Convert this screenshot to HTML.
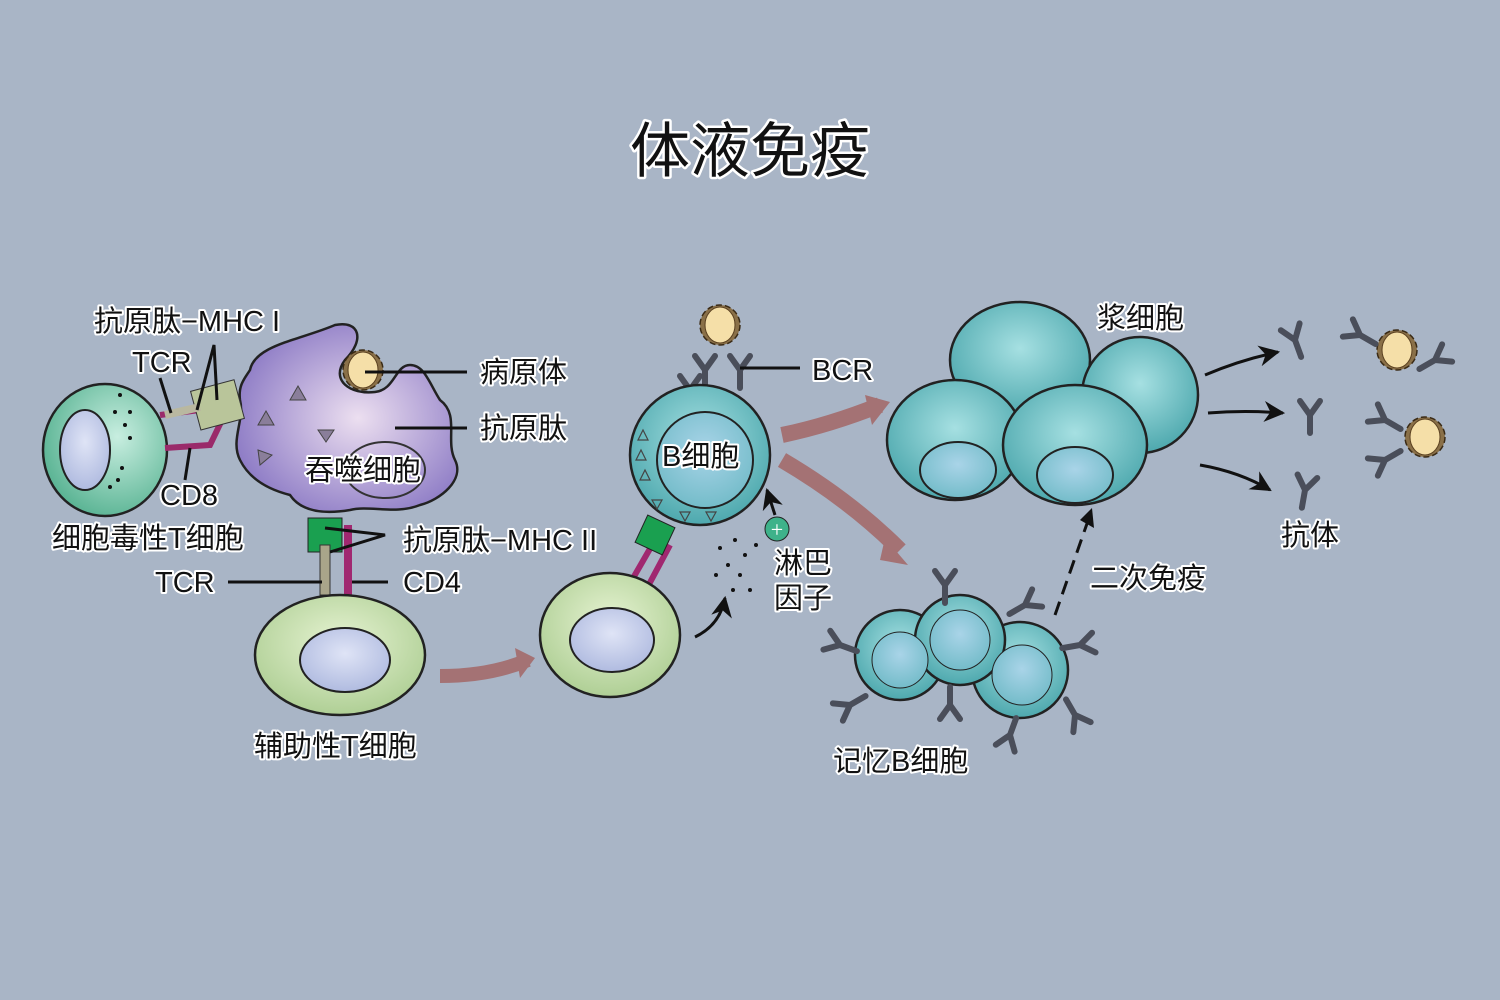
<!DOCTYPE html>
<html><head><meta charset="utf-8"><style>
html,body{margin:0;padding:0;background:#a9b5c6;}
svg{display:block}
.t{font-family:"Liberation Sans","Noto Sans CJK SC",sans-serif;font-size:29px;fill:#111;stroke:#fff;stroke-width:4px;paint-order:stroke;stroke-linejoin:round}
.ln{stroke:#111;stroke-width:3;fill:none}
.cell{stroke:#222;stroke-width:2.5}
</style></head><body>
<svg width="1500" height="1000" viewBox="0 0 1500 1000" xmlns="http://www.w3.org/2000/svg">
<defs>
<radialGradient id="gT" cx="0.6" cy="0.4" r="0.7"><stop offset="0" stop-color="#c8eee0"/><stop offset="1" stop-color="#4fae8c"/></radialGradient>
<radialGradient id="gP" cx="0.55" cy="0.5" r="0.6"><stop offset="0" stop-color="#ecdff0"/><stop offset="1" stop-color="#8a78c4"/></radialGradient>
<radialGradient id="gH" cx="0.5" cy="0.4" r="0.7"><stop offset="0" stop-color="#e6f3d2"/><stop offset="1" stop-color="#a6c98b"/></radialGradient>
<radialGradient id="gB" cx="0.5" cy="0.4" r="0.7"><stop offset="0" stop-color="#a6e0e2"/><stop offset="1" stop-color="#3f9fa5"/></radialGradient>
<radialGradient id="gN" cx="0.5" cy="0.4" r="0.7"><stop offset="0" stop-color="#dfe4f6"/><stop offset="1" stop-color="#a8b4dc"/></radialGradient>
<radialGradient id="gBN" cx="0.5" cy="0.4" r="0.7"><stop offset="0" stop-color="#a9d4e8"/><stop offset="1" stop-color="#6bb8c4"/></radialGradient>
<marker id="ah" viewBox="0 0 10 10" refX="9" refY="5" markerWidth="7" markerHeight="7" orient="auto"><path d="M0 0 L10 5 L0 10 L3 5z" fill="#111"/></marker>
<g id="ab"><path d="M0 0 L0 18 M0 0 L-10 -14 M0 0 L10 -14" stroke="#4a4e5a" stroke-width="6" fill="none" stroke-linecap="round"/></g>
<g id="path"><circle r="20" fill="#8a7048" stroke="#3a2a15" stroke-width="1.5" stroke-dasharray="6 3"/><ellipse rx="15" ry="18" fill="#f5dfa8" stroke="#5a4020"/></g>
</defs>
<rect width="1500" height="1000" fill="#a9b5c6"/>
<text x="750" y="172" text-anchor="middle" class="t" style="font-size:60px;stroke-width:5px">体液免疫</text>

<path d="M250 370 C255 345 300 340 335 325 C360 320 365 340 345 360 C330 380 350 395 375 392 C395 390 395 365 410 365 C425 365 430 385 440 400 C460 415 445 440 455 460 C465 480 440 500 420 505 C395 515 370 505 350 510 C320 515 300 510 290 495 C270 490 250 480 240 460 C230 440 245 420 240 400 C238 385 245 378 250 370Z" fill="url(#gP)" class="cell"/>
<ellipse cx="385" cy="470" rx="40" ry="28" fill="none" stroke="#333" stroke-width="2"/>
<g fill="#8a7e9a" stroke="#444" stroke-width="1"><path d="M290 400 l8 -14 l8 14z"/><path d="M258 425 l8 -14 l8 14z"/><path d="M318 430 l16 0 l-8 12z"/><path d="M258 450 l14 5 l-12 10z"/></g>
<use href="#path" x="363" y="370"/>
<ellipse cx="105" cy="450" rx="62" ry="66" fill="url(#gT)" class="cell"/>
<ellipse cx="85" cy="450" rx="25" ry="40" fill="url(#gN)" stroke="#222" stroke-width="2"/>
<g fill="#111"><circle cx="120" cy="395" r="2"/><circle cx="115" cy="412" r="2"/><circle cx="130" cy="412" r="2"/><circle cx="125" cy="425" r="2"/><circle cx="130" cy="438" r="2"/><circle cx="122" cy="468" r="2"/><circle cx="118" cy="480" r="2"/><circle cx="110" cy="487" r="2"/></g>
<path d="M160 415 L200 410 M165 448 L210 445 L222 420" stroke="#9a2a6a" stroke-width="6" fill="none"/>
<rect x="195" y="385" width="45" height="40" fill="#b9c59a" stroke="#333" transform="rotate(-15 217 405)"/>
<path d="M165 415 l35 -8" stroke="#b9b8a0" stroke-width="8"/>
<rect x="308" y="518" width="34" height="34" fill="#1aa050" stroke="#222"/>
<rect x="320" y="545" width="10" height="50" fill="#a9a58a" stroke="#333"/>
<rect x="344" y="525" width="8" height="70" fill="#a02870"/>
<ellipse cx="340" cy="655" rx="85" ry="60" fill="url(#gH)" class="cell"/>
<ellipse cx="345" cy="660" rx="45" ry="32" fill="url(#gN)" stroke="#222" stroke-width="2"/>
<path d="M440 676 Q490 676 528 660" stroke="#a47274" stroke-width="14" fill="none"/>
<path d="M515 648 L535 658 L520 678z" fill="#a47274"/>
<path d="M632 580 L655 540 M646 590 L670 545" stroke="#a02870" stroke-width="6"/>
<rect x="640" y="520" width="30" height="30" fill="#1aa050" stroke="#222" transform="rotate(25 655 535)"/>
<ellipse cx="610" cy="635" rx="70" ry="62" fill="url(#gH)" class="cell"/>
<ellipse cx="612" cy="640" rx="42" ry="32" fill="url(#gN)" stroke="#222" stroke-width="2"/>
<path d="M695 637 Q720 625 725 598" class="ln" stroke-width="2" marker-end="url(#ah)"/>
<g fill="#111"><circle cx="720" cy="548" r="2"/><circle cx="735" cy="540" r="2"/><circle cx="745" cy="555" r="2"/><circle cx="728" cy="565" r="2"/><circle cx="740" cy="575" r="2"/><circle cx="750" cy="590" r="2"/><circle cx="716" cy="575" r="2"/><circle cx="733" cy="590" r="2"/><circle cx="756" cy="545" r="2"/></g>
<circle cx="777" cy="529" r="12" fill="#3eb28a" stroke="#222"/><text x="777" y="537" text-anchor="middle" font-size="22" fill="#fff">+</text>
<path d="M775 515 L767 490" class="ln" stroke-width="2" marker-end="url(#ah)"/>
<use href="#ab" x="705" y="370"/><use href="#ab" x="740" y="370"/><use href="#ab" x="690" y="390"/>
<use href="#path" x="720" y="325"/>
<circle cx="700" cy="455" r="70" fill="url(#gB)" class="cell"/>
<circle cx="705" cy="460" r="48" fill="url(#gBN)" stroke="#222" stroke-width="2"/>
<g fill="none" stroke="#444" stroke-width="1.2"><path d="M638 440 l5 -10 l5 10z"/><path d="M636 460 l5 -10 l5 10z"/><path d="M640 480 l5 -10 l5 10z"/><path d="M652 500 l10 0 l-5 9z"/><path d="M680 512 l10 0 l-5 9z"/><path d="M706 512 l10 0 l-5 9z"/></g>
<path d="M782 435 Q830 425 880 405" stroke="#a47274" stroke-width="16" fill="none"/>
<path d="M865 395 L890 402 L872 425z" fill="#a47274"/>
<path d="M782 460 Q850 500 900 550" stroke="#a47274" stroke-width="16" fill="none"/>
<path d="M885 538 L908 565 L880 560z" fill="#a47274"/>
<g class="cell">
<ellipse cx="1020" cy="360" rx="70" ry="58" fill="url(#gB)"/>
<ellipse cx="1140" cy="395" rx="58" ry="58" fill="url(#gB)"/>
<ellipse cx="955" cy="440" rx="68" ry="60" fill="url(#gB)"/>
<ellipse cx="1075" cy="445" rx="72" ry="60" fill="url(#gB)"/>
</g>
<ellipse cx="958" cy="470" rx="38" ry="28" fill="url(#gBN)" stroke="#222" stroke-width="2"/>
<ellipse cx="1075" cy="475" rx="38" ry="28" fill="url(#gBN)" stroke="#222" stroke-width="2"/>
<path d="M1055 615 L1090 515" stroke="#111" stroke-width="3" stroke-dasharray="14 8"/>
<path d="M1080 520 L1092 508 L1094 528z" fill="#111"/>
<g class="cell">
<circle cx="900" cy="655" r="45" fill="url(#gB)"/>
<circle cx="1020" cy="670" r="48" fill="url(#gB)"/>
<circle cx="960" cy="640" r="45" fill="url(#gB)"/>
</g>
<circle cx="960" cy="640" r="30" fill="url(#gBN)" stroke="#222"/>
<circle cx="1022" cy="675" r="30" fill="url(#gBN)" stroke="#222"/>
<circle cx="900" cy="660" r="28" fill="url(#gBN)" stroke="#222"/>
<use href="#ab" x="945" y="585"/><use href="#ab" x="1025" y="605" transform="rotate(60 1025 605)"/><use href="#ab" x="840" y="645" transform="rotate(-70 840 645)"/><use href="#ab" x="850" y="705" transform="rotate(-120 850 705)"/><use href="#ab" x="950" y="705" transform="rotate(180 950 705)"/><use href="#ab" x="1010" y="735" transform="rotate(200 1010 735)"/><use href="#ab" x="1080" y="645" transform="rotate(80 1080 645)"/><use href="#ab" x="1075" y="715" transform="rotate(150 1075 715)"/>
<path d="M1205 375 Q1240 360 1278 352" class="ln" stroke-width="2" marker-end="url(#ah)"/>
<path d="M1208 413 Q1245 410 1283 413" class="ln" stroke-width="2" marker-end="url(#ah)"/>
<path d="M1200 465 Q1240 472 1270 490" class="ln" stroke-width="2" marker-end="url(#ah)"/>
<use href="#ab" x="1295" y="340" transform="rotate(-20 1295 340)"/><use href="#ab" x="1310" y="415"/><use href="#ab" x="1305" y="490" transform="rotate(10 1305 490)"/>
<use href="#path" x="1397" y="350"/><use href="#ab" x="1360" y="335" transform="rotate(-60 1360 335)"/><use href="#ab" x="1435" y="360" transform="rotate(60 1435 360)"/>
<use href="#path" x="1425" y="437"/><use href="#ab" x="1385" y="420" transform="rotate(-60 1385 420)"/><use href="#ab" x="1385" y="460" transform="rotate(-120 1385 460)"/>
<g class="ln">
<path d="M365 372 L467 372"/><path d="M395 428 L467 428"/><path d="M740 368 L800 368"/>
<path d="M171 413 L160 378"/><path d="M197 410 L214 345 L217 400"/><path d="M190 448 L185 480"/>
<path d="M330 552 L385 535 L325 528"/><path d="M228 582 L322 582"/><path d="M352 582 L388 582"/>
</g>
<text class="t" x="94" y="331">抗原肽−MHC I</text>
<text class="t" x="132" y="372">TCR</text>
<text class="t" x="160" y="505">CD8</text>
<text class="t" x="52" y="548">细胞毒性T细胞</text>
<text class="t" x="305" y="480">吞噬细胞</text>
<text class="t" x="480" y="382">病原体</text>
<text class="t" x="480" y="438">抗原肽</text>
<text class="t" x="403" y="550">抗原肽−MHC II</text>
<text class="t" x="155" y="592">TCR</text>
<text class="t" x="403" y="592">CD4</text>
<text class="t" x="254" y="756">辅助性T细胞</text>
<text class="t" x="662" y="466">B细胞</text>
<text class="t" x="812" y="380">BCR</text>
<text class="t" x="774" y="573">淋巴</text>
<text class="t" x="774" y="608">因子</text>
<text class="t" x="1097" y="328">浆细胞</text>
<text class="t" x="1090" y="588">二次免疫</text>
<text class="t" x="1281" y="545">抗体</text>
<text class="t" x="833" y="771">记忆B细胞</text>
</svg>
</body></html>
